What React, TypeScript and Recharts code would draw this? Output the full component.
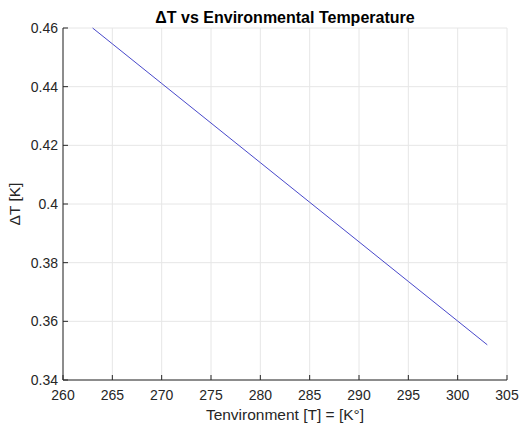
import { CartesianGrid, Line, LineChart, XAxis, YAxis } from 'recharts';

const tempK = [263, 265, 270, 275, 280, 285, 290, 295, 300, 303];
const deltaT = [0.46, 0.4546, 0.4411, 0.4276, 0.4141, 0.4006, 0.3871, 0.3736, 0.3601, 0.352];
const xTicks = [260, 265, 270, 275, 280, 285, 290, 295, 300, 305];
const yTicks = [0.34, 0.36, 0.38, 0.4, 0.42, 0.44, 0.46];

const data = tempK.map((t, i) => ({ t, dT: deltaT[i] }));

const INK = '#262626';
const FONT = '"Liberation Sans", Arial, Helvetica, sans-serif';

function XTick({ x, y, payload }: any) {
  return (
    <g>
      <line x1={x} x2={x} y1={y} y2={y - 5} stroke={INK} strokeWidth={1} />
      <text x={x} y={y + 20} textAnchor="middle" fill={INK} fontSize={14} fontFamily={FONT}>
        {String(payload.value)}
      </text>
    </g>
  );
}

function YTick({ x, y, payload }: any) {
  return (
    <g>
      <line x1={x} x2={x + 5} y1={y} y2={y} stroke={INK} strokeWidth={1} />
      <text x={x - 5} y={y + 5} textAnchor="end" fill={INK} fontSize={14} fontFamily={FONT}>
        {String(payload.value)}
      </text>
    </g>
  );
}

export default function App() {
  return (
    <div style={{ position: 'absolute', left: 0, top: 0, width: 519, height: 426, background: '#fff', fontFamily: FONT }}>
      <LineChart width={519} height={426} data={data} margin={{ top: 28, right: 12, bottom: 0, left: 0 }}>
        <CartesianGrid stroke="#e6e6e6" strokeWidth={1} />
        <XAxis
          dataKey="t"
          type="number"
          domain={[260, 305]}
          ticks={xTicks}
          height={46}
          tickSize={0}
          tickMargin={0}
          tickLine={false}
          axisLine={{ stroke: INK }}
          tick={<XTick />}
          interval={0}
        />
        <YAxis
          type="number"
          domain={[0.34, 0.46]}
          ticks={yTicks}
          width={63}
          tickSize={0}
          tickMargin={0}
          tickLine={false}
          axisLine={{ stroke: INK }}
          tick={<YTick />}
          interval={0}
        />
        <Line
          type="linear"
          dataKey="dT"
          stroke="#3333c4"
          strokeWidth={0.9}
          dot={false}
          isAnimationActive={false}
        />
      </LineChart>
      <div style={{ position: 'absolute', left: 63, width: 444, top: 8, lineHeight: '20px', textAlign: 'center', fontWeight: 'bold', fontSize: 16, color: '#000' }}>
        ΔT vs Environmental Temperature
      </div>
      <div style={{ position: 'absolute', left: 63, width: 444, top: 405, lineHeight: '20px', textAlign: 'center', fontSize: 15.5, color: INK }}>
        Tenvironment [T] = [K°]
      </div>
      <div
        style={{
          position: 'absolute',
          left: 15,
          top: 204,
          transform: 'translate(-50%, -50%) rotate(-90deg)',
          whiteSpace: 'nowrap',
          fontSize: 15.5,
          color: INK,
        }}
      >
        ΔT [K]
      </div>
    </div>
  );
}
